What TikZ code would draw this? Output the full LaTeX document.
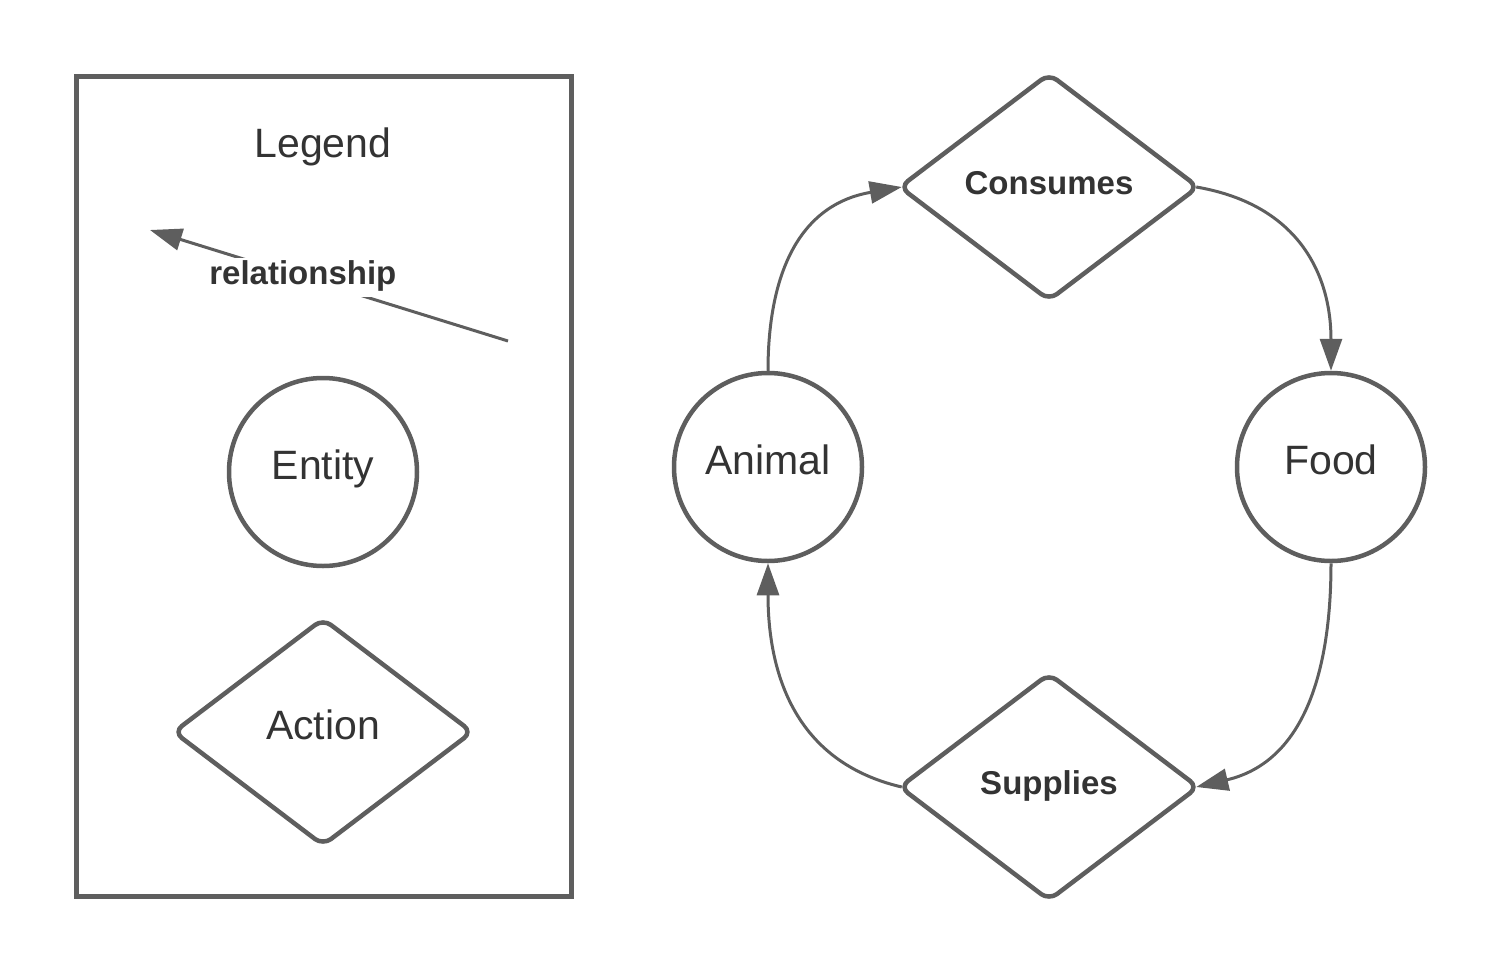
\documentclass[tikz,border=0pt]{standalone}
\usepackage{fontspec}
\setmainfont{Liberation Sans}
\usetikzlibrary{shapes.geometric,arrows.meta}

\definecolor{linegray}{RGB}{94,94,94}
\definecolor{textgray}{RGB}{51,51,51}

\begin{document}
\begin{tikzpicture}[x=0.5pt,y=0.5pt,
  >={Triangle[length=16pt,width=11pt]},
  bigtext/.style={text=textgray,font=\fontsize{20.5pt}{24pt}\selectfont,text height=14pt,text depth=7pt},
  boldtext/.style={text=textgray,font=\fontsize{16.5pt}{19pt}\bfseries\selectfont,text height=12pt,text depth=4.8pt},
  entitynode/.style={circle,draw=linegray,line width=2.25pt,minimum size=94pt,inner sep=0pt,bigtext},
  actionnode/.style={diamond,draw=linegray,line width=2.25pt,rounded corners=5pt,
    minimum width=150pt,minimum height=114pt,inner sep=0pt},
  link/.style={->,draw=linegray,line width=1.5pt}]

\useasboundingbox (0,0) rectangle (1500,-975);

% Legend box
\draw [linegray,line width=2.5pt] (76,-76.5) rectangle (571,-896.5);
\node [bigtext,anchor=base] (legend) at (323,-157) {Legend};

\coordinate (relstart) at (508,-341);
\coordinate (relend) at (150,-230);
\draw [link] (relstart) -- node [pos=0.573,fill=white,inner sep=1.5pt,boldtext] (rellabel) {relationship} (relend);

\node [entitynode] (entity) at (323,-472) {Entity};
\node [actionnode,bigtext] (action) at (323,-732) {Action};

% The cycle (shifted a little onto the rounded tips of the diamonds)
\node [entitynode] (animal) at (768,-467) {Animal};
\node [entitynode] (food) at (1331,-467) {Food};
\node [actionnode,boldtext] (consumes) at (1049,-187) {Consumes};
\node [actionnode,boldtext] (supplies) at (1049,-787) {Supplies};

\draw [link] (animal.north) .. controls +(0,93) and +(-105,-18) .. ([xshift=2.5pt]consumes.west);
\draw [link] ([xshift=-2.5pt]consumes.east) .. controls +(105,-18) and +(0,93) .. (food.north);
\draw [link] (food.south) .. controls +(0,-110) and +(107,25) .. ([xshift=-2.5pt]supplies.east);
\draw [link] ([xshift=2.5pt]supplies.west) .. controls +(-107,25) and +(0,-110) .. (animal.south);

\end{tikzpicture}
\end{document}
